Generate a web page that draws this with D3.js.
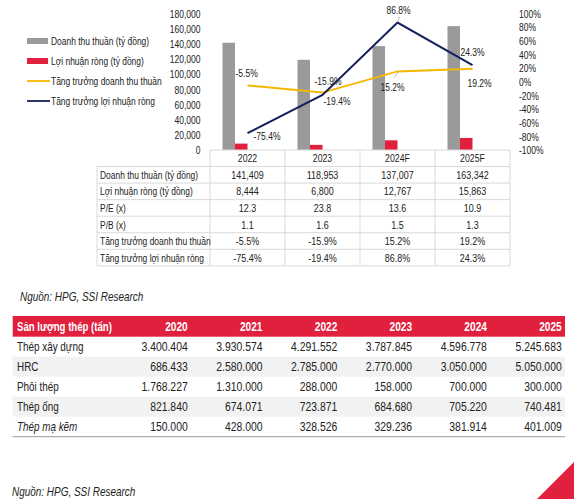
<!DOCTYPE html>
<html><head><meta charset="utf-8">
<script src="https://cdn.jsdelivr.net/npm/d3@7"></script>
<style>
body{margin:0;background:#fff;}
svg text{font-family:'Liberation Sans Narrow','Arial Narrow','Liberation Sans',Arial,sans-serif;fill:#222;}
</style></head><body>
<svg id="c" width="574" height="499"></svg>
<script>
const years = ["2022","2023","2024F","2025F"];
const revenue = [141409,118953,137007,163342];
const profit = [8444,6800,12767,15863];
const revGrowth = [-5.5,-15.9,15.2,19.2];
const profGrowth = [-75.4,-19.4,86.8,24.3];
const leftTicks = [0,20000,40000,60000,80000,100000,120000,140000,160000,180000];
const rightTicks = [-100,-80,-60,-40,-20,0,20,40,60,80,100];
const tableRowLabels = ["Doanh thu thuần (tỷ đồng)","Lợi nhuận ròng (tỷ đồng)","P/E (x)","P/B (x)","Tăng trưởng doanh thu thuần","Tăng trưởng lợi nhuận ròng"];
const peValues = ["12.3","23.8","13.6","10.9"];
const pbValues = ["1.1","1.6","1.5","1.3"];
const legendLabels = ["Doanh thu thuần (tỷ đồng)","Lợi nhuận ròng (tỷ đồng)","Tăng trưởng doanh thu thuần","Tăng trưởng lợi nhuận ròng"];
const sourceText = "Nguồn: HPG, SSI Research";
const steelHeader = "Sản lượng thép (tấn)";
const steelYears = ["2020","2021","2022","2023","2024","2025"];
const steelProducts = ["Thép xây dựng","HRC","Phôi thép","Thép ống","Thép mạ kẽm"];
const steelValues = [
  [3400404,3930574,4291552,3787845,4596778,5245683],
  [686433,2580000,2785000,2770000,3050000,5050000],
  [1768227,1310000,288000,158000,700000,300000],
  [821840,674071,723871,684680,705220,740481],
  [150000,428000,328526,329236,381914,401009]
];

const C = {gray:"#9a9a9a", red:"#e0203d", yellow:"#f5b800", navy:"#14215a", grid:"#d9d9d9"};
const svg = d3.select("#c");

// condensed text helper
function T(g, x, y, s, o={}){
  const t = g.append("text")
    .attr("transform",`translate(${x},${y}) scale(${o.sx||0.74},1)`)
    .attr("dy","0.35em")
    .attr("font-size",o.size||11.5)
    .attr("text-anchor",o.anchor||"start")
    .text(s);
  if(o.weight) t.attr("font-weight",o.weight);
  if(o.style) t.attr("font-style",o.style);
  if(o.fill) t.style("fill",o.fill);
  return t;
}

// scales
const x = d3.scaleBand().domain(years).range([210,510]);
const yL = d3.scaleLinear().domain([0,180000]).range([150,13.5]);
const yR = d3.scaleLinear().domain([-100,100]).range([150,13.5]);

// left axis
const axL = svg.append("g").attr("transform","translate(200.5,0)")
  .call(d3.axisLeft(yL).tickValues(leftTicks).tickSize(0).tickPadding(0).tickFormat(d3.format(",")));
axL.select(".domain").remove();
axL.selectAll("text").attr("font-size",11.5).attr("transform","scale(0.74,1)")
  .style("font-family","'Liberation Sans',Arial,sans-serif").attr("fill","#222");

// right axis
const axR = svg.append("g").attr("transform","translate(519,0)")
  .call(d3.axisRight(yR).tickValues(rightTicks).tickSize(0).tickPadding(0).tickFormat(d=>d+"%"));
axR.select(".domain").remove();
axR.selectAll("text").attr("font-size",11.5).attr("transform","scale(0.74,1)")
  .style("font-family","'Liberation Sans',Arial,sans-serif").attr("fill","#222");

// bars
const bw = 12.5;
const cx = d => x(d) + x.bandwidth()/2;
svg.selectAll("rect.rev").data(years).join("rect").attr("class","rev")
  .attr("x",(d)=>cx(d)-25).attr("width",bw)
  .attr("y",(d,i)=>yL(revenue[i])).attr("height",(d,i)=>yL(0)-yL(revenue[i]))
  .attr("fill",C.gray);
svg.selectAll("rect.prof").data(years).join("rect").attr("class","prof")
  .attr("x",(d)=>cx(d)-25+bw).attr("width",bw)
  .attr("y",(d,i)=>yL(profit[i])).attr("height",(d,i)=>yL(0)-yL(profit[i]))
  .attr("fill",C.red);

// lines
const line = d3.line().x(d=>cx(d.k)).y(d=>yR(d.v));
svg.append("path").datum(years.map((k,i)=>({k,v:revGrowth[i]})))
  .attr("d",line).attr("fill","none").attr("stroke",C.yellow).attr("stroke-width",2);
svg.append("path").datum(years.map((k,i)=>({k,v:profGrowth[i]})))
  .attr("d",line).attr("fill","none").attr("stroke",C.navy).attr("stroke-width",2);

// leader lines
svg.append("line").attr("x1",cx(years[2])+1).attr("y1",yR(revGrowth[2])).attr("x2",cx(years[2])-3).attr("y2",yR(revGrowth[2])+6).attr("stroke","#aaa").attr("stroke-width",0.8);
svg.append("line").attr("x1",cx(years[2])).attr("y1",yR(profGrowth[2])).attr("x2",cx(years[2])+2).attr("y2",yR(profGrowth[2])-5.5).attr("stroke","#aaa").attr("stroke-width",0.8);

// data labels (offsets relative to points)
const fmtP = v => v.toFixed(1)+"%";
const revOff = [[-12,-13],[-8,-12],[-17,16],[-5,14]];
const profOff = [[6,3],[1,6],[-11,-13],[-12,-13]];
const lblG = svg.append("g");
revGrowth.forEach((v,i)=>T(lblG, cx(years[i])+revOff[i][0], yR(v)+revOff[i][1], fmtP(v)));
profGrowth.forEach((v,i)=>T(lblG, cx(years[i])+profOff[i][0], yR(v)+profOff[i][1], fmtP(v)));

// legend
const lg = svg.append("g");
const legendY = [41,61,81,101];
legendLabels.forEach((t,i)=>{
  if(i<2) lg.append("rect").attr("x",27).attr("y",legendY[i]-3).attr("width",21).attr("height",6).attr("fill",i==0?C.gray:C.red);
  else lg.append("line").attr("x1",27).attr("x2",50).attr("y1",legendY[i]).attr("y2",legendY[i]).attr("stroke",i==2?C.yellow:C.navy).attr("stroke-width",1.8);
  T(lg, 51, legendY[i], t, {sx:0.735});
});

// table 1
const tb = svg.append("g");
const rowH = 16.55, tTop = 150, tLeft = 97, tRight = 510;
const rowsVals = [
  revenue.map(d3.format(",")),
  profit.map(d3.format(",")),
  peValues, pbValues,
  revGrowth.map(fmtP), profGrowth.map(fmtP)
];
tb.append("line").attr("x1",210).attr("x2",tRight).attr("y1",tTop).attr("y2",tTop).attr("stroke",C.grid);
for(let r=0;r<=6;r++){
  const yy = tTop + rowH*(r+1);
  tb.append("line").attr("x1",tLeft).attr("x2",tRight).attr("y1",yy).attr("y2",yy).attr("stroke",C.grid);
}
tb.append("line").attr("x1",tLeft).attr("x2",tLeft).attr("y1",tTop+rowH).attr("y2",tTop+rowH*7).attr("stroke",C.grid);
[210,...years.map(y=>x(y)+x.bandwidth())].forEach(xx=>{
  tb.append("line").attr("x1",xx).attr("x2",xx).attr("y1",tTop).attr("y2",tTop+rowH*7).attr("stroke",C.grid);
});
years.forEach(y=>T(tb, cx(y), tTop+rowH/2, y, {anchor:"middle", sx:0.76}));
tableRowLabels.forEach((t,r)=>{
  const yy = tTop + rowH*(r+1) + rowH/2;
  T(tb, 100, yy, t, {sx:0.735});
  rowsVals[r].forEach((v,i)=>T(tb, cx(years[i]), yy, v, {anchor:"middle", sx:0.78}));
});

// source 1
T(svg, 20, 297, sourceText, {size:12, style:"italic", sx:0.83});

// steel table
const st = svg.append("g");
const sLeft = 12.7, sRight = 565, sTop = 316, hH = 20.7, sRowH = 20;
const sx = d3.scalePoint().domain(steelYears).range([187.7,561.7]);
st.append("rect").attr("x",sLeft).attr("y",sTop).attr("width",sRight-sLeft).attr("height",hH).attr("fill",C.red);
T(st, 17, sTop+hH/2, steelHeader, {size:13, weight:"bold", fill:"#fff", sx:0.74});
steelYears.forEach(y=>T(st, sx(y), sTop+hH/2, y, {size:13, weight:"bold", fill:"#fff", anchor:"end", sx:0.78}));
const fmtDot = v => d3.format(",")(v).replace(/,/g,".");
steelProducts.forEach((p,r)=>{
  const y0 = sTop+hH+r*sRowH;
  if(r%2==1) st.append("rect").attr("x",sLeft).attr("y",y0).attr("width",sRight-sLeft).attr("height",sRowH).attr("fill","#f2f2f2");
  T(st, 17, y0+sRowH/2, p, {size:13, style:r==4?"italic":null, sx:0.76});
  steelValues[r].forEach((v,i)=>T(st, sx(steelYears[i]), y0+sRowH/2, fmtDot(v), {size:13, anchor:"end", sx:0.8}));
});
st.append("line").attr("x1",sLeft).attr("x2",sRight).attr("y1",sTop+hH+5*sRowH).attr("y2",sTop+hH+5*sRowH).attr("stroke","#999").attr("stroke-width",1);

// source 2
T(svg, 12, 492, sourceText, {size:12, style:"italic", sx:0.83});

// corner triangle
svg.append("path").attr("d",d3.line()([[537,499],[574,499],[574,462]])+"Z").attr("fill",C.red);
</script>
</body></html>
